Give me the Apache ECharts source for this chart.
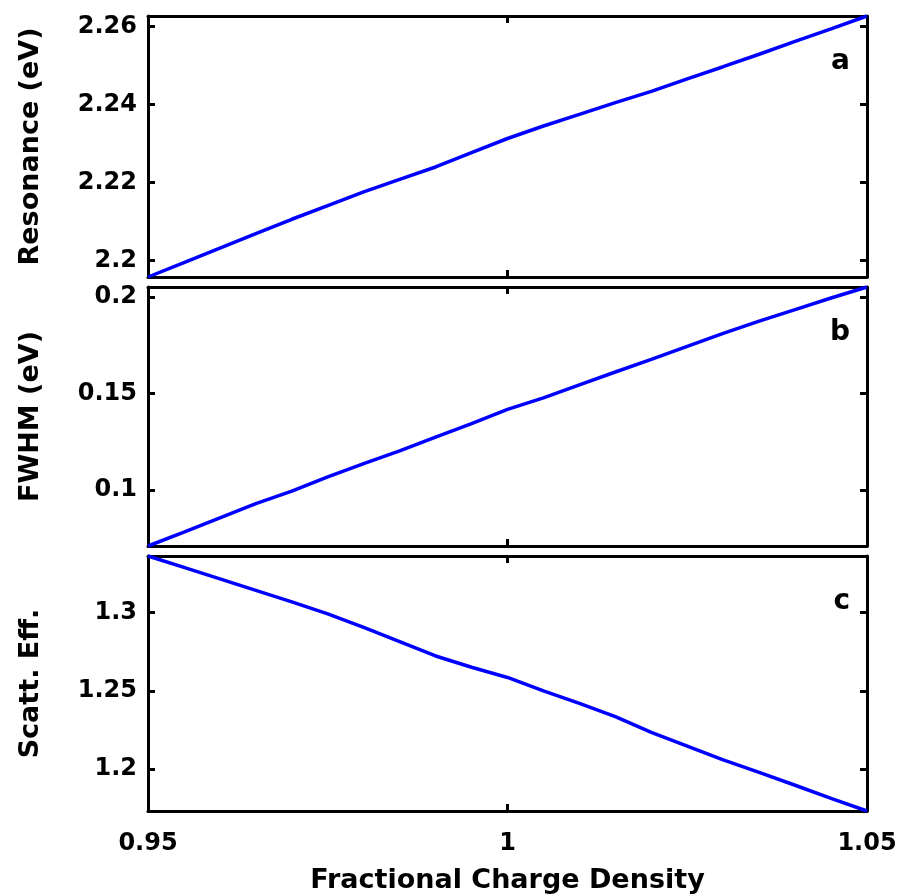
<!DOCTYPE html>
<html>
<head>
<meta charset="utf-8">
<script src="https://cdn.jsdelivr.net/npm/echarts@6/dist/echarts.min.js"></script>
<style>
html,body{margin:0;padding:0;background:#fff;}
#chart{width:902px;height:895px;}
</style>
</head>
<body>
<div id="chart"></div>
<script>
// ---- data ----
const chargeDensity = [0.950,0.955,0.960,0.965,0.970,0.975,0.980,0.985,0.990,0.995,1.000,1.005,1.010,1.015,1.020,1.025,1.030,1.035,1.040,1.045,1.050];
const resonance = [2.1958,2.1995,2.2032,2.2069,2.2106,2.2141,2.2176,2.2208,2.2240,2.2277,2.2313,2.2345,2.2375,2.2405,2.2434,2.2466,2.2497,2.2529,2.2562,2.2594,2.2627];
const fwhm = [0.0711,0.0783,0.0856,0.0930,0.0995,0.1069,0.1137,0.1203,0.1275,0.1345,0.1418,0.1478,0.1545,0.1612,0.1677,0.1745,0.1812,0.1875,0.1935,0.1995,0.2052];
const scattEff = [1.3359,1.3286,1.3213,1.3140,1.3067,1.2990,1.2904,1.2814,1.2722,1.2650,1.2585,1.2500,1.2420,1.2335,1.2235,1.2148,1.2060,1.1980,1.1898,1.1814,1.1734];

const xTicks = [0.95, 1, 1.05];
const xTickLabels = ['0.95', '1', '1.05'];
const resTicks = [2.2, 2.22, 2.24, 2.26];
const resTickLabels = ['2.2', '2.22', '2.24', '2.26'];
const fwhmTicks = [0.1, 0.15, 0.2];
const fwhmTickLabels = ['0.1', '0.15', '0.2'];
const scattTicks = [1.2, 1.25, 1.3];
const scattTickLabels = ['1.2', '1.25', '1.3'];

const panelNames = ['Resonance (eV)', 'FWHM (eV)', 'Scatt. Eff.'];
const panelLetters = ['a', 'b', 'c'];
const xTitle = 'Fractional Charge Density';
const yRanges = [[2.1958, 2.2627], [0.0711, 0.2052], [1.1734, 1.3359]];

// ---- chart ----
const FONT = 'DejaVu Sans';
const panelSeries = [resonance, fwhm, scattEff];
const panelTicks = [resTicks, fwhmTicks, scattTicks];
const panelTickLabels = [resTickLabels, fwhmTickLabels, scattTickLabels];
const grids = [
  {left: 148, right: 35, top: 16, height: 261},
  {left: 148, right: 35, top: 287, height: 259},
  {left: 148, right: 35, top: 556, height: 257}
];

const axisLine = {show: true, onZero: false, lineStyle: {color: '#000', width: 3}};
const xAxes = [], yAxes = [], series = [], graphics = [];

function fmt(arrV, arrL) {
  return function (v) {
    for (let i = 0; i < arrV.length; i++) if (Math.abs(v - arrV[i]) < 1e-9) return arrL[i];
    return '';
  };
}

for (let i = 0; i < 3; i++) {
  const isLast = i === 2;
  xAxes.push({
    type: 'value', gridIndex: i, position: 'bottom', min: 0.95, max: 1.05,
    axisLine: axisLine,
    axisTick: {show: true, inside: true, length: 7, customValues: xTicks, lineStyle: {color: '#000', width: 3}},
    axisLabel: {show: isLast, customValues: xTicks, formatter: fmt(xTicks, xTickLabels),
      color: '#000', fontFamily: FONT, fontWeight: 'bold', fontSize: 24, margin: 21},
    splitLine: {show: false},
    name: isLast ? xTitle : '', nameLocation: 'middle', nameGap: 56,
    nameTextStyle: {color: '#000', fontFamily: FONT, fontWeight: 'bold', fontSize: 27}
  });
  xAxes.push({
    type: 'value', gridIndex: i, position: 'top', min: 0.95, max: 1.05,
    axisLine: axisLine,
    axisTick: {show: true, inside: true, length: 7, customValues: xTicks, lineStyle: {color: '#000', width: 3}},
    axisLabel: {show: false}, splitLine: {show: false}
  });
  yAxes.push({
    type: 'value', gridIndex: i, position: 'left', min: yRanges[i][0], max: yRanges[i][1],
    axisLine: axisLine,
    axisTick: {show: true, inside: true, length: 7, customValues: panelTicks[i], lineStyle: {color: '#000', width: 3}},
    axisLabel: {show: true, customValues: panelTicks[i], formatter: fmt(panelTicks[i], panelTickLabels[i]),
      color: '#000', fontFamily: FONT, fontWeight: 'bold', fontSize: 24, margin: 11},
    splitLine: {show: false},
    name: panelNames[i], nameLocation: 'middle', nameGap: 104, nameRotate: 90,
    nameTextStyle: {color: '#000', fontFamily: FONT, fontWeight: 'bold', fontSize: 27}
  });
  yAxes.push({
    type: 'value', gridIndex: i, position: 'right', min: yRanges[i][0], max: yRanges[i][1],
    axisLine: axisLine,
    axisTick: {show: true, inside: true, length: 7, customValues: panelTicks[i], lineStyle: {color: '#000', width: 3}},
    axisLabel: {show: false}, splitLine: {show: false}
  });
  series.push({
    type: 'line', xAxisIndex: i * 2, yAxisIndex: i * 2, showSymbol: false, silent: true,
    lineStyle: {color: '#0000ff', width: 3.5}, clip: false,
    data: chargeDensity.map((x, k) => [x, panelSeries[i][k]])
  });
  graphics.push({
    type: 'text', right: 52, top: grids[i].top + 32,
    style: {text: panelLetters[i], fill: '#000', font: 'bold 28px "DejaVu Sans"'}
  });
}

const chart = echarts.init(document.getElementById('chart'), null, {renderer: 'canvas'});
chart.setOption({
  animation: false,
  backgroundColor: '#fff',
  grid: grids,
  xAxis: xAxes,
  yAxis: yAxes,
  series: series,
  graphic: graphics
});
</script>
</body>
</html>
